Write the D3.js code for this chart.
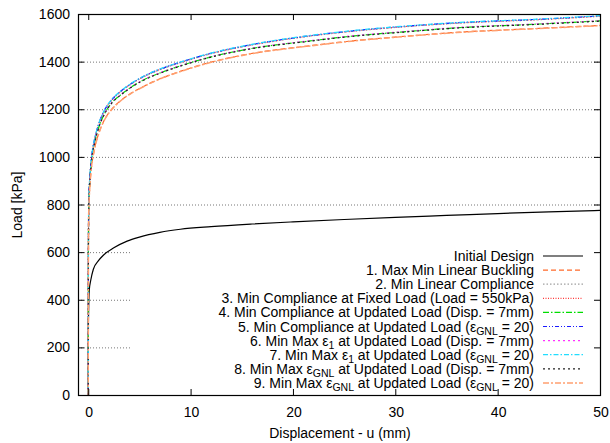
<!DOCTYPE html>
<html><head><meta charset="utf-8">
<script src="https://cdn.jsdelivr.net/npm/d3@7"></script>
<style>body{margin:0;background:#fff}svg{display:block}text{font-family:"Liberation Sans",Arial,Helvetica,sans-serif;}</style>
</head><body><svg id="c" width="610" height="443"></svg>
<script>
// ---------- data ----------
const dispInit = [0, 0.02, 0.1, 0.25, 0.5, 1, 1.5, 2.5, 3.8, 5, 7, 9, 12, 16, 20, 25, 30, 35, 40, 45, 50];
const loadInit = [0, 300, 440, 483, 528, 564, 588, 618, 646, 663, 683, 696, 707, 718, 727, 737, 746, 754, 762, 769, 775];

const disp = [0, 0.01, 0.05, 0.15, 0.3, 0.6, 1.0, 1.64, 2.3, 3.1, 4.1, 5.5, 7, 9.2, 12, 15.8, 21.7, 26, 30.5, 36, 44.1, 50];
const load1 = [0, 470, 770, 870, 950, 1030, 1095, 1160, 1200, 1234, 1265, 1298, 1328, 1362, 1398, 1433, 1467, 1488, 1505, 1523, 1540, 1552];
const load2 = [0, 498, 818, 908, 988, 1068, 1133, 1198, 1238, 1271, 1303, 1338, 1366, 1398, 1433, 1468, 1507, 1528, 1545, 1561, 1576, 1590];
const load3 = [0, 499, 819, 909, 989, 1069, 1134, 1199, 1239, 1272, 1304, 1339, 1367, 1399, 1434, 1469, 1508, 1529, 1546, 1562, 1577, 1591];
const load4 = [0, 490, 800, 895, 975, 1055, 1120, 1185, 1227, 1258, 1290, 1325, 1352, 1385, 1420, 1454, 1487, 1508, 1524, 1542, 1558, 1571];
const load5 = [0, 500, 820, 910, 990, 1070, 1135, 1200, 1240, 1273, 1305, 1340, 1368, 1400, 1435, 1470, 1509, 1530, 1547, 1563, 1578, 1592];
const load6 = [0, 491, 801, 896, 976, 1056, 1121, 1186, 1228, 1259, 1291, 1326, 1353, 1386, 1421, 1455, 1488, 1509, 1525, 1543, 1559, 1572];
const load7 = [0, 501, 821, 911, 991, 1071, 1136, 1201, 1241, 1274, 1306, 1341, 1369, 1401, 1436, 1471, 1510, 1531, 1548, 1564, 1579, 1593];
const load8 = [0, 489, 799, 894, 974, 1054, 1119, 1184, 1226, 1257, 1289, 1324, 1351, 1384, 1419, 1453, 1486, 1507, 1523, 1541, 1557, 1570];
const load9 = [0, 469, 769, 869, 949, 1029, 1094, 1159, 1199, 1233, 1264, 1297, 1327, 1361, 1397, 1432, 1466, 1487, 1504, 1522, 1539, 1551];

const seriesLabels = [
  "Initial Design",
  "1. Max Min Linear Buckling",
  "2. Min Linear Compliance",
  "3. Min Compliance at Fixed Load (Load = 550kPa)",
  "4. Min Compliance at Updated Load (Disp. = 7mm)",
  "5. Min Compliance at Updated Load (ε_{GNL} = 20)",
  "6. Min Max ε_{1} at Updated Load (Disp. = 7mm)",
  "7. Min Max ε_{1} at Updated Load (ε_{GNL} = 20)",
  "8. Min Max ε_{GNL} at Updated Load (Disp. = 7mm)",
  "9. Min Max ε_{GNL} at Updated Load (ε_{GNL} = 20)"
];
const seriesColors = ["#000000", "#ff6a2a", "#a0a0a0", "#ff3a3a", "#00dd00", "#1a1aff", "#ff33ff", "#22ddff", "#222222", "#ffa070"];
const seriesDash = [null, "5,3", "1.5,2", "1,1.5", "6,2,1.5,2", "4,2,1,2,1,2", "2,3", "5,2,1.5,2", "2,3", "6,2,2,2"];
const xTicks = [0, 10, 20, 30, 40, 50];
const yTicks = [0, 200, 400, 600, 800, 1000, 1200, 1400, 1600];

// ---------- layout ----------
const L = 78, R = 600, T = 14, B = 395;
const FS = 14;
const svg = d3.select("#c");
const x = d3.scaleLinear().domain([-1, 50]).range([L, R]);
const y = d3.scaleLinear().domain([0, 1600]).range([B, T]);

// grid
svg.append("g").selectAll("line").data(yTicks.filter(v => v > 0 && v < 1600)).join("line")
  .attr("x1", L).attr("x2", R).attr("y1", d => y(d) + 0.5).attr("y2", d => y(d) + 0.5)
  .attr("stroke", "#777").attr("stroke-width", 1).attr("stroke-dasharray", "1,2");

// legend background
svg.append("rect").attr("x", 130).attr("y", 247).attr("width", R - 130 - 1).attr("height", B - 247 - 1).attr("fill", "#fff");

// curves
const allX = [dispInit, disp, disp, disp, disp, disp, disp, disp, disp, disp];
const allY = [loadInit, load1, load2, load3, load4, load5, load6, load7, load8, load9];
const line = d3.line().x(d => x(d[0])).y(d => y(d[1])).curve(d3.curveMonotoneX);
allY.forEach((ys, i) => {
  const pts = ys.map((v, j) => [allX[i][j], v]);
  svg.append("path").attr("d", line(pts)).attr("fill", "none")
    .attr("stroke", seriesColors[i]).attr("stroke-width", i === 9 ? 1.5 : 1.2)
    .attr("stroke-dasharray", seriesDash[i]);
});

// legend
const lg = svg.append("g");
seriesLabels.forEach((lab, i) => {
  const yy = 256 + i * 14.1;
  const t = lg.append("text").attr("x", 534).attr("y", yy + 5).attr("text-anchor", "end")
    .attr("font-size", FS).attr("fill", "#000");
  const parts = lab.split(/(_\{[^}]*\})/).filter(s => s.length);
  let sub = false;
  parts.forEach(p => {
    if (p.startsWith("_{")) {
      t.append("tspan").attr("dy", 3).attr("font-size", 10.5).text(p.slice(2, -1));
      sub = true;
    } else {
      const ts = t.append("tspan").text(p);
      if (sub) { ts.attr("dy", -3); sub = false; }
    }
  });
  lg.append("line").attr("x1", 543).attr("x2", 583).attr("y1", yy).attr("y2", yy)
    .attr("stroke", seriesColors[i]).attr("stroke-width", i === 9 ? 1.5 : 1.2)
    .attr("stroke-dasharray", seriesDash[i]);
});

// border
svg.append("rect").attr("x", L + 0.5).attr("y", T + 0.5).attr("width", R - L).attr("height", B - T)
  .attr("fill", "none").attr("stroke", "#000").attr("stroke-width", 1.2);

// ticks (inward, mirrored)
const tk = 6;
const tg = svg.append("g").attr("stroke", "#000").attr("stroke-width", 1);
yTicks.forEach(v => {
  tg.append("line").attr("x1", L).attr("x2", L + tk).attr("y1", y(v) + 0.5).attr("y2", y(v) + 0.5);
  tg.append("line").attr("x1", R - tk).attr("x2", R).attr("y1", y(v) + 0.5).attr("y2", y(v) + 0.5);
});
xTicks.forEach(v => {
  tg.append("line").attr("x1", x(v) + 0.5).attr("x2", x(v) + 0.5).attr("y1", B).attr("y2", B - tk);
  tg.append("line").attr("x1", x(v) + 0.5).attr("x2", x(v) + 0.5).attr("y1", T).attr("y2", T + tk);
});

// tick labels
svg.append("g").selectAll("text").data(yTicks).join("text")
  .attr("x", 70).attr("y", d => y(d) + 5).attr("text-anchor", "end").attr("font-size", FS).text(d => d);
svg.append("g").selectAll("text").data(xTicks).join("text")
  .attr("x", d => x(d) + 1).attr("y", 417).attr("text-anchor", "middle").attr("font-size", FS).text(d => d);

// axis titles
svg.append("text").attr("x", 340).attr("y", 438).attr("text-anchor", "middle").attr("font-size", FS)
  .text("Displacement - u (mm)");
svg.append("text").attr("transform", "translate(22,205) rotate(-90)").attr("text-anchor", "middle")
  .attr("font-size", FS).text("Load [kPa]");
</script></body></html>
